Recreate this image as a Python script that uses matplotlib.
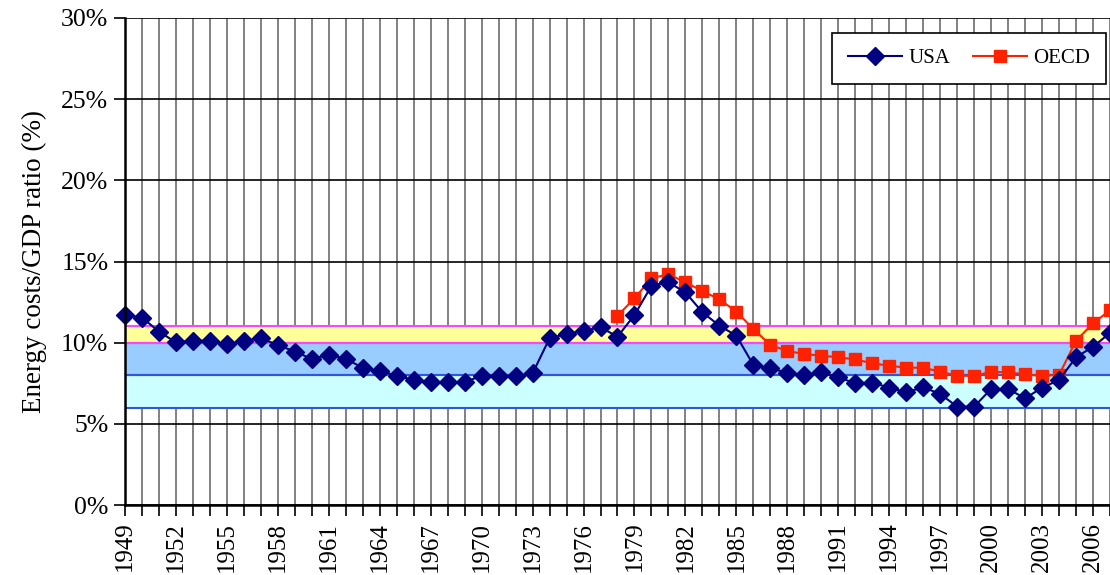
import numpy as np
import matplotlib
matplotlib.use("Agg")
import matplotlib.pyplot as plt

# data
years = list(range(1949, 2008))
usa = [11.7, 11.55, 10.68, 10.02, 10.12, 10.12, 9.9, 10.12, 10.27, 9.86,
       9.45, 9.0, 9.26, 9.0, 8.46, 8.26, 7.97, 7.7, 7.56, 7.56,
       7.56, 7.97, 7.95, 7.95, 8.11, 10.27, 10.54, 10.74, 10.95, 10.37,
       11.7, 13.5, 13.72, 13.1, 11.87, 11.05, 10.43, 8.63, 8.42, 8.15,
       8.01, 8.17, 7.87, 7.5, 7.54, 7.23, 6.94, 7.25, 6.84, 6.06,
       6.06, 7.15, 7.15, 6.57, 7.23, 7.7, 9.1, 9.75, 10.6]
oecd_years = list(range(1978, 2008))
oecd = [11.66, 12.73, 13.97, 14.21, 13.72, 13.18, 12.67, 11.91, 10.84, 9.86,
        9.49, 9.3, 9.2, 9.1, 8.97, 8.73, 8.58, 8.46, 8.46, 8.21,
        7.97, 7.95, 8.21, 8.17, 8.05, 7.95, 8.01, 10.12, 11.19, 12.0]

# reference bands (%)
bands = [(6, 8, "#ccffff", "#3355dd"), (8, 10, "#99ccff", "#3355dd"), (10, 11, "#ffff99", "#ff44ff")]

plt.rcParams['font.family'] = ['Liberation Serif', 'DejaVu Serif']

fig = plt.figure(figsize=(11.1, 5.75), dpi=100)
ax = fig.add_axes([0.1126, 0.1217, 0.8874, 0.847])

ax.set_xlim(1949, 2006.8)
ax.set_ylim(0, 30)

# grid
for yr in years:
    ax.axvline(yr, color="#777777", lw=1.3, zorder=1)
for v in range(0, 31, 5):
    ax.axhline(v, color="black", lw=1.2, zorder=1)

for lo, hi, fc, ec in bands:
    ax.axhspan(lo, hi, facecolor=fc, edgecolor="none", zorder=2)
for lo, hi, fc, ec in bands:
    ax.axhline(lo, color=ec, lw=1.5, zorder=3)
    ax.axhline(hi, color=ec, lw=1.5, zorder=3)

ax.plot(years, usa, color="#000080", marker="D", markersize=9, lw=1.5,
        label="USA", zorder=5, clip_on=False)
ax.plot(oecd_years, oecd, color="#ff2200", marker="s", markersize=9, lw=1.5,
        label="OECD", zorder=4, clip_on=False)

ax.set_xticks(years)
ax.set_xticklabels([str(y) if (y - 1949) % 3 == 0 else "" for y in years],
                   rotation=90, fontsize=18)
ax.set_yticks(range(0, 31, 5))
ax.set_yticklabels([f"{v}%" for v in range(0, 31, 5)], fontsize=18.5)
ax.tick_params(axis="both", direction="out", length=8, width=1.2, color="black")
ax.tick_params(axis="x", pad=4)
ax.tick_params(axis="y", pad=4)

for s in ["top", "right"]:
    ax.spines[s].set_visible(False)
for s in ["left", "bottom"]:
    ax.spines[s].set_linewidth(1.8)
    ax.spines[s].set_zorder(6)

ax.set_ylabel("Energy costs/GDP ratio (%)", fontsize=19.5, labelpad=10)

leg = ax.legend(loc="upper left", bbox_to_anchor=(0.7178, 0.969), ncol=2, fontsize=15,
                frameon=True, fancybox=False, edgecolor="black", framealpha=1,
                handlelength=2.6, handletextpad=0.3, borderpad=0.75,
                borderaxespad=0, columnspacing=1.1)
leg.get_frame().set_linewidth(1.2)
leg.set_zorder(7)

fig.savefig("out.png", dpi=100)
